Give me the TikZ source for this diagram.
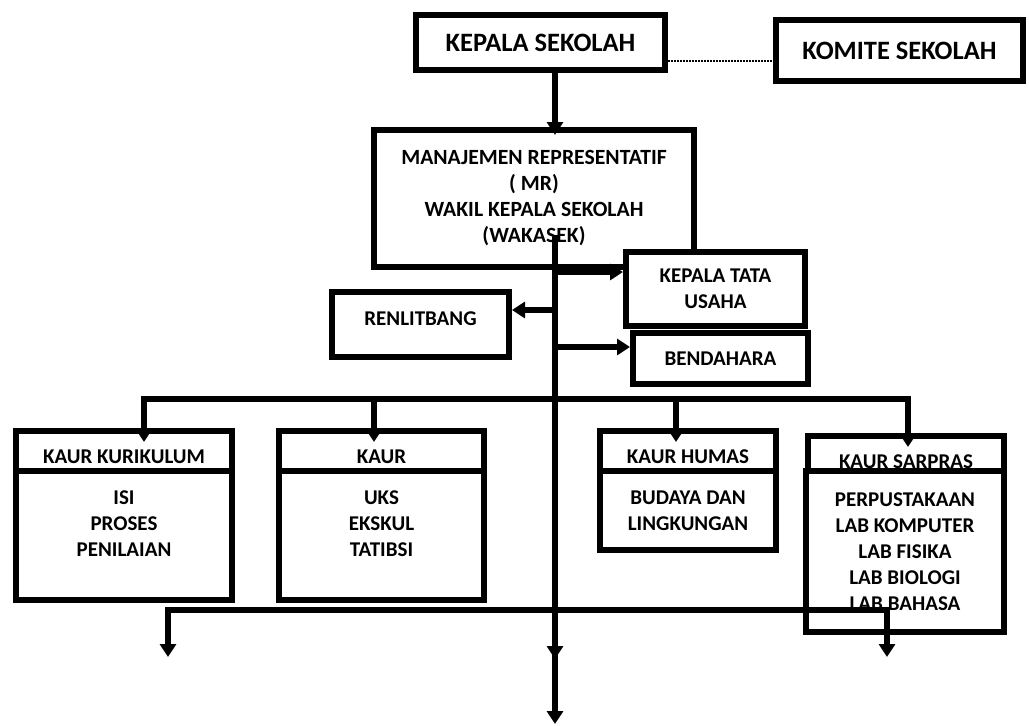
\documentclass[tikz,border=0pt]{standalone}
\usepackage{fontspec}
\setmainfont{Carlito}
\usetikzlibrary{arrows.meta,positioning}
\tikzset{
  obox/.style={draw=black,line width=6pt,fill=white,align=center,inner sep=2pt,font=\bfseries\fontsize{21}{26}\selectfont},
  otop/.style={obox,font=\bfseries\fontsize{26.5}{30}\selectfont},
  omid/.style={obox,font=\bfseries\fontsize{21.7}{26}\selectfont},
  ohead/.style={obox,text height=25pt,text depth=0pt},
  obody/.style={obox},
  oarr/.style={line width=6pt,-{Triangle[length=13pt,width=16pt]}},
  odot/.style={line width=1.5pt,dash pattern=on 1.5pt off 1.5pt}
}
\begin{document}
\begin{tikzpicture}[x=1pt,y=-1pt]
\useasboundingbox (0,0) rectangle (1029,726);
\node[otop, minimum width=249pt, minimum height=55pt] (kepala) at (540.5,42.5) {KEPALA SEKOLAH};
\node[otop, minimum width=247pt, minimum height=61pt] (komite) at (899.5,50.5) {KOMITE SEKOLAH};
\node[omid, minimum width=320pt, minimum height=137pt] (mr) at (534,198.5) {MANAJEMEN REPRESENTATIF\\ ( MR)\\ WAKIL KEPALA SEKOLAH\\ (WAKASEK)};
\node[obox, minimum width=179pt, minimum height=74pt] (ktu) at (715.5,289) {KEPALA TATA\\ USAHA};
\node[obox, minimum width=175pt, minimum height=51pt] (bend) at (720.5,358.5) {BENDAHARA};
\node[obox, minimum width=177pt, minimum height=65pt, text depth=12pt] (renlit) at (420.5,324.5) {RENLITBANG};
% kaur
\node[ohead, minimum width=216pt, minimum height=40pt] (kkur) at (124,451) {KAUR KURIKULUM};
\node[obody, minimum width=216pt, minimum height=129pt, text depth=24pt] (kkurisi) at (124,535.5) {ISI\\ PROSES\\ PENILAIAN};
\node[ohead, minimum width=205pt, minimum height=40pt] (kaur) at (381.5,451) {KAUR};
\node[obody, minimum width=205pt, minimum height=129pt, text depth=24pt] (kauruks) at (381.5,535.5) {UKS\\ EKSKUL\\ TATIBSI};
\node[ohead, minimum width=176pt, minimum height=40pt] (khumas) at (688,451) {KAUR HUMAS};
\node[obody, minimum width=176pt, minimum height=79pt] (khumasbd) at (688,510.5) {BUDAYA DAN\\ LINGKUNGAN};
\node[ohead, minimum width=196pt, minimum height=35pt, text height=30pt] (ksarpras) at (906,453.5) {KAUR SARPRAS};
\node[obody, minimum width=198pt, minimum height=161pt] (ksarprasl) at (905,551.5) {PERPUSTAKAAN\\ LAB KOMPUTER\\ LAB FISIKA\\ LAB BIOLOGI\\ LAB BAHASA};
% titik
\coordinate (trunktop) at (555,235);
\coordinate (bar) at (555,399);
\coordinate (bar2) at (555,610);
\coordinate (trunkmid) at (555,659);
\coordinate (trunkend) at (555,724);
\coordinate (leftend) at (168,657);
\coordinate (rightend) at (887,657);
\draw[odot] ([yshift=-18.5pt]kepala.east) -- ([yshift=-18.5pt]kepala.east -| komite.west);
\draw[oarr] (kepala.south -| trunktop) -- ([yshift=-8pt]mr.north -| trunktop);
\draw[oarr] (trunktop) -- (trunkend);
\draw[oarr] (trunktop) -- (trunkmid);
\draw[oarr] ([yshift=17pt]ktu.west -| trunktop) -- ([yshift=17pt]ktu.west);
\draw[oarr] ([yshift=14.5pt]renlit.east -| trunktop) -- ([yshift=14.5pt]renlit.east);
\draw[oarr] ([yshift=11.5pt]bend.west -| trunktop) -- ([yshift=11.5pt]bend.west);
\draw[oarr] (bar) -| ([xshift=20pt,yshift=-14pt]kkur.north);
\draw[oarr] (bar) -| ([xshift=-7.5pt,yshift=-14pt]kaur.north);
\draw[oarr] (bar) -| ([xshift=-12pt,yshift=-14pt]khumas.north);
\draw[oarr] (bar) -| ([xshift=2pt,yshift=-14pt]ksarpras.north);
\draw[oarr] (bar2) -| (leftend);
\draw[oarr] (bar2) -| (rightend);
\end{tikzpicture}
\end{document}
